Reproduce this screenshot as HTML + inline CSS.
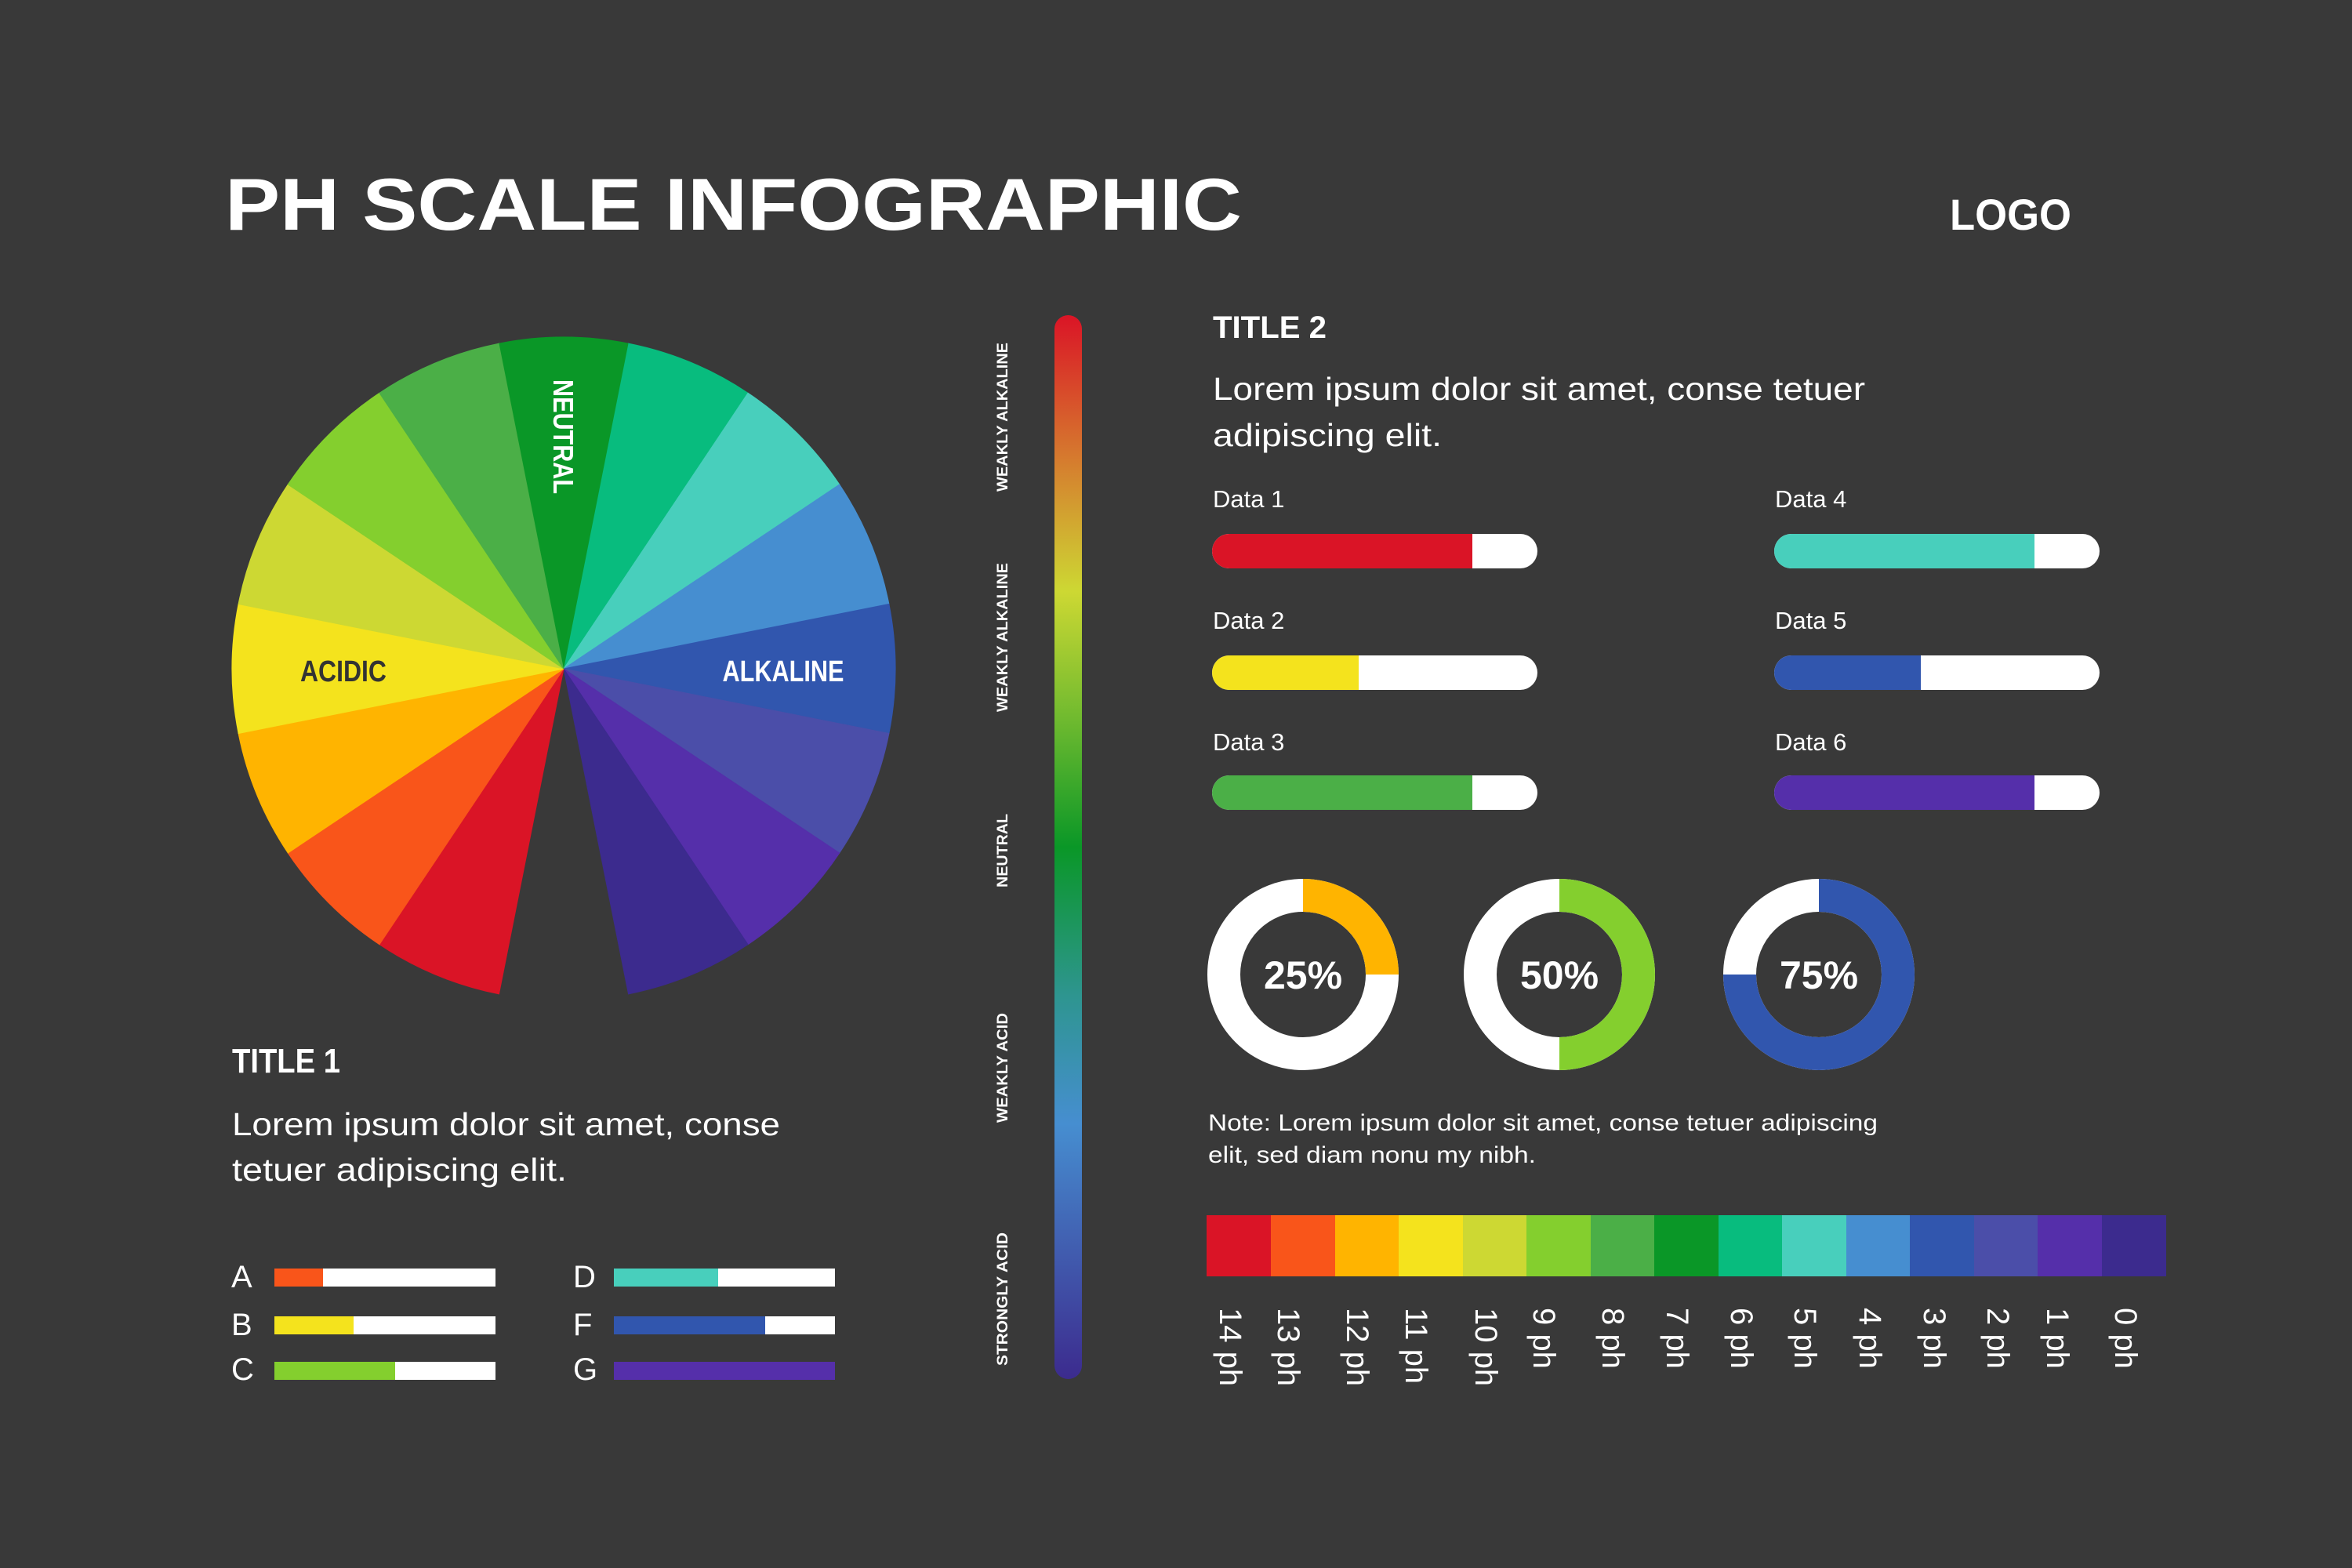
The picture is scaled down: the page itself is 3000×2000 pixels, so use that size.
<!DOCTYPE html>
<html><head><meta charset="utf-8"><style>
html,body{margin:0;padding:0;background:#393939;}
svg{display:block;}
text{font-family:"Liberation Sans",sans-serif;fill:#fff;}
</style></head><body>
<svg width="3000" height="2000" viewBox="0 0 3000 2000" xmlns="http://www.w3.org/2000/svg">
<defs>
<linearGradient id="vg" x1="0" y1="0" x2="0" y2="1">
<stop offset="0" stop-color="#DA1426"/>
<stop offset="0.13" stop-color="#D6772E"/>
<stop offset="0.26" stop-color="#CDD833"/>
<stop offset="0.38" stop-color="#6FBA2F"/>
<stop offset="0.5" stop-color="#0A9727"/>
<stop offset="0.64" stop-color="#2E9590"/>
<stop offset="0.76" stop-color="#468ED0"/>
<stop offset="1" stop-color="#3C2B8E"/>
</linearGradient>
<clipPath id="c1"><rect x="1546" y="681" width="415" height="44" rx="22"/></clipPath>
<clipPath id="c2"><rect x="1546" y="836" width="415" height="44" rx="22"/></clipPath>
<clipPath id="c3"><rect x="1546" y="989" width="415" height="44" rx="22"/></clipPath>
<clipPath id="c4"><rect x="2263" y="681" width="415" height="44" rx="22"/></clipPath>
<clipPath id="c5"><rect x="2263" y="836" width="415" height="44" rx="22"/></clipPath>
<clipPath id="c6"><rect x="2263" y="989" width="415" height="44" rx="22"/></clipPath>
<path id="w" d="M0,0 L-82.5,-414.9 A423,423 0 0 1 82.5,-414.9 Z"/>
</defs>
<rect width="3000" height="2000" fill="#393939"/>

<text x="287" y="293" font-size="94" font-weight="bold" textLength="1297" lengthAdjust="spacingAndGlyphs">PH SCALE INFOGRAPHIC</text>
<text x="2487" y="293" font-size="56" font-weight="bold" textLength="155" lengthAdjust="spacingAndGlyphs">LOGO</text>

<!-- pie -->
<g transform="translate(719,853)">
<use href="#w" fill="#0A9727" stroke="#0A9727" transform="rotate(0)"/>
<use href="#w" fill="#08BC7E" stroke="#08BC7E" transform="rotate(22.5)"/>
<use href="#w" fill="#48CFBC" stroke="#48CFBC" transform="rotate(45)"/>
<use href="#w" fill="#468ED0" stroke="#468ED0" transform="rotate(67.5)"/>
<use href="#w" fill="#3156AE" stroke="#3156AE" transform="rotate(90)"/>
<use href="#w" fill="#4B4EA9" stroke="#4B4EA9" transform="rotate(112.5)"/>
<use href="#w" fill="#552FAA" stroke="#552FAA" transform="rotate(135)"/>
<use href="#w" fill="#3C2B8E" stroke="#3C2B8E" transform="rotate(157.5)"/>
<use href="#w" fill="#DA1426" stroke="#DA1426" transform="rotate(202.5)"/>
<use href="#w" fill="#F9551A" stroke="#F9551A" transform="rotate(225)"/>
<use href="#w" fill="#FFB400" stroke="#FFB400" transform="rotate(247.5)"/>
<use href="#w" fill="#F4E31D" stroke="#F4E31D" transform="rotate(270)"/>
<use href="#w" fill="#CDD833" stroke="#CDD833" transform="rotate(292.5)"/>
<use href="#w" fill="#84CF2E" stroke="#84CF2E" transform="rotate(315)"/>
<use href="#w" fill="#4BAF47" stroke="#4BAF47" transform="rotate(337.5)"/>
<use href="#w" fill="#0A9727" transform="rotate(0)"/>
</g>
<text x="438" y="869" font-size="38" font-weight="bold" text-anchor="middle" style="fill:#333" textLength="110" lengthAdjust="spacingAndGlyphs">ACIDIC</text>
<text x="999" y="869" font-size="38" font-weight="bold" text-anchor="middle" textLength="155" lengthAdjust="spacingAndGlyphs">ALKALINE</text>
<text transform="translate(706,557) rotate(90)" font-size="36" font-weight="bold" text-anchor="middle" textLength="146" lengthAdjust="spacingAndGlyphs">NEUTRAL</text>

<!-- title 1 -->
<text x="296" y="1368" font-size="44" font-weight="bold" textLength="138" lengthAdjust="spacingAndGlyphs">TITLE 1</text>
<text x="296" y="1448" font-size="41" textLength="699" lengthAdjust="spacingAndGlyphs">Lorem ipsum dolor sit amet, conse</text>
<text x="296" y="1506" font-size="41" textLength="427" lengthAdjust="spacingAndGlyphs">tetuer adipiscing elit.</text>

<!-- small bars -->
<g font-size="40">
<text x="295" y="1642">A</text><text x="295" y="1703">B</text><text x="295" y="1760">C</text>
<text x="731" y="1642">D</text><text x="731" y="1703">F</text><text x="731" y="1760">G</text>
</g>
<rect x="350" y="1618" width="282" height="23" fill="#fff"/><rect x="350" y="1618" width="62" height="23" fill="#F9551A"/>
<rect x="350" y="1679" width="282" height="23" fill="#fff"/><rect x="350" y="1679" width="101" height="23" fill="#F4E31D"/>
<rect x="350" y="1737" width="282" height="23" fill="#fff"/><rect x="350" y="1737" width="154" height="23" fill="#84CF2E"/>
<rect x="783" y="1618" width="282" height="23" fill="#fff"/><rect x="783" y="1618" width="133" height="23" fill="#48CFBC"/>
<rect x="783" y="1679" width="282" height="23" fill="#fff"/><rect x="783" y="1679" width="193" height="23" fill="#3156AE"/>
<rect x="783" y="1737" width="282" height="23" fill="#552FAA"/>

<!-- vertical gradient -->
<rect x="1345" y="402" width="35" height="1357" rx="17.5" fill="url(#vg)"/>
<g font-size="19" font-weight="bold" text-anchor="middle">
<text transform="translate(1285,532) rotate(-90)" textLength="190" lengthAdjust="spacingAndGlyphs">WEAKLY ALKALINE</text>
<text transform="translate(1285,813) rotate(-90)" textLength="190" lengthAdjust="spacingAndGlyphs">WEAKLY ALKALINE</text>
<text transform="translate(1285,1085) rotate(-90)" textLength="94" lengthAdjust="spacingAndGlyphs">NEUTRAL</text>
<text transform="translate(1285,1362) rotate(-90)" textLength="140" lengthAdjust="spacingAndGlyphs">WEAKLY ACID</text>
<text transform="translate(1285,1657) rotate(-90)" textLength="170" lengthAdjust="spacingAndGlyphs">STRONGLY ACID</text>
</g>

<!-- title 2 -->
<text x="1547" y="431" font-size="40" font-weight="bold" textLength="145" lengthAdjust="spacingAndGlyphs">TITLE 2</text>
<text x="1547" y="510" font-size="41" textLength="832" lengthAdjust="spacingAndGlyphs">Lorem ipsum dolor sit amet, conse tetuer</text>
<text x="1547" y="569" font-size="41" textLength="292" lengthAdjust="spacingAndGlyphs">adipiscing elit.</text>

<g font-size="31">
<text x="1547" y="647">Data 1</text><text x="1547" y="802">Data 2</text><text x="1547" y="957">Data 3</text>
<text x="2264" y="647">Data 4</text><text x="2264" y="802">Data 5</text><text x="2264" y="957">Data 6</text>
</g>
<g clip-path="url(#c1)"><rect x="1546" y="681" width="415" height="44" fill="#fff"/><rect x="1546" y="681" width="332" height="44" fill="#DA1426"/></g>
<g clip-path="url(#c2)"><rect x="1546" y="836" width="415" height="44" fill="#fff"/><rect x="1546" y="836" width="187" height="44" fill="#F4E31D"/></g>
<g clip-path="url(#c3)"><rect x="1546" y="989" width="415" height="44" fill="#fff"/><rect x="1546" y="989" width="332" height="44" fill="#4BAF47"/></g>
<g clip-path="url(#c4)"><rect x="2263" y="681" width="415" height="44" fill="#fff"/><rect x="2263" y="681" width="332" height="44" fill="#48CFBC"/></g>
<g clip-path="url(#c5)"><rect x="2263" y="836" width="415" height="44" fill="#fff"/><rect x="2263" y="836" width="187" height="44" fill="#3156AE"/></g>
<g clip-path="url(#c6)"><rect x="2263" y="989" width="415" height="44" fill="#fff"/><rect x="2263" y="989" width="332" height="44" fill="#552FAA"/></g>

<!-- donuts -->
<circle cx="1662" cy="1243" r="101" fill="none" stroke="#fff" stroke-width="42"/>
<path d="M1662,1142 A101,101 0 0 1 1763,1243" fill="none" stroke="#FFB400" stroke-width="42"/>
<circle cx="1989" cy="1243" r="101" fill="none" stroke="#fff" stroke-width="42"/>
<path d="M1989,1142 A101,101 0 0 1 1989,1344" fill="none" stroke="#84CF2E" stroke-width="42"/>
<circle cx="2320" cy="1243" r="101" fill="none" stroke="#fff" stroke-width="42"/>
<path d="M2320,1142 A101,101 0 1 1 2219,1243" fill="none" stroke="#3156AE" stroke-width="42"/>
<g font-size="50" font-weight="bold" text-anchor="middle">
<text x="1662" y="1261">25%</text><text x="1989" y="1261">50%</text><text x="2320" y="1261">75%</text>
</g>

<text x="1541" y="1442" font-size="30" textLength="854" lengthAdjust="spacingAndGlyphs">Note: Lorem ipsum dolor sit amet, conse tetuer adipiscing</text>
<text x="1541" y="1483" font-size="30" textLength="418" lengthAdjust="spacingAndGlyphs">elit, sed diam nonu my nibh.</text>

<!-- strip -->
<g>
<rect x="1539" y="1550" width="82.6" height="78" fill="#DA1426"/>
<rect x="1621" y="1550" width="82.6" height="78" fill="#F9551A"/>
<rect x="1703" y="1550" width="82.6" height="78" fill="#FFB400"/>
<rect x="1784" y="1550" width="82.6" height="78" fill="#F4E31D"/>
<rect x="1866" y="1550" width="82.6" height="78" fill="#CDD833"/>
<rect x="1947" y="1550" width="82.6" height="78" fill="#84CF2E"/>
<rect x="2029" y="1550" width="82.6" height="78" fill="#4BAF47"/>
<rect x="2110" y="1550" width="82.6" height="78" fill="#0A9727"/>
<rect x="2192" y="1550" width="82.6" height="78" fill="#08BC7E"/>
<rect x="2273" y="1550" width="82.6" height="78" fill="#48CFBC"/>
<rect x="2355" y="1550" width="82.6" height="78" fill="#468ED0"/>
<rect x="2436" y="1550" width="82.6" height="78" fill="#3156AE"/>
<rect x="2518" y="1550" width="82.6" height="78" fill="#4B4EA9"/>
<rect x="2599" y="1550" width="82.6" height="78" fill="#552FAA"/>
<rect x="2681" y="1550" width="82" height="78" fill="#3C2B8E"/>
</g>
<g font-size="40" dominant-baseline="central">
<text transform="translate(1569,1668) rotate(90)">14 ph</text>
<text transform="translate(1643,1668) rotate(90)">13 ph</text>
<text transform="translate(1731,1668) rotate(90)">12 ph</text>
<text transform="translate(1806,1668) rotate(90)">11 ph</text>
<text transform="translate(1895,1668) rotate(90)">10 ph</text>
<text transform="translate(1969,1668) rotate(90)">9 ph</text>
<text transform="translate(2057,1668) rotate(90)">8 ph</text>
<text transform="translate(2139,1668) rotate(90)">7 ph</text>
<text transform="translate(2221,1668) rotate(90)">6 ph</text>
<text transform="translate(2302,1668) rotate(90)">5 ph</text>
<text transform="translate(2385,1668) rotate(90)">4 ph</text>
<text transform="translate(2467,1668) rotate(90)">3 ph</text>
<text transform="translate(2548,1668) rotate(90)">2 ph</text>
<text transform="translate(2624,1668) rotate(90)">1 ph</text>
<text transform="translate(2711,1668) rotate(90)">0 ph</text>
</g>
</svg>
</body></html>
